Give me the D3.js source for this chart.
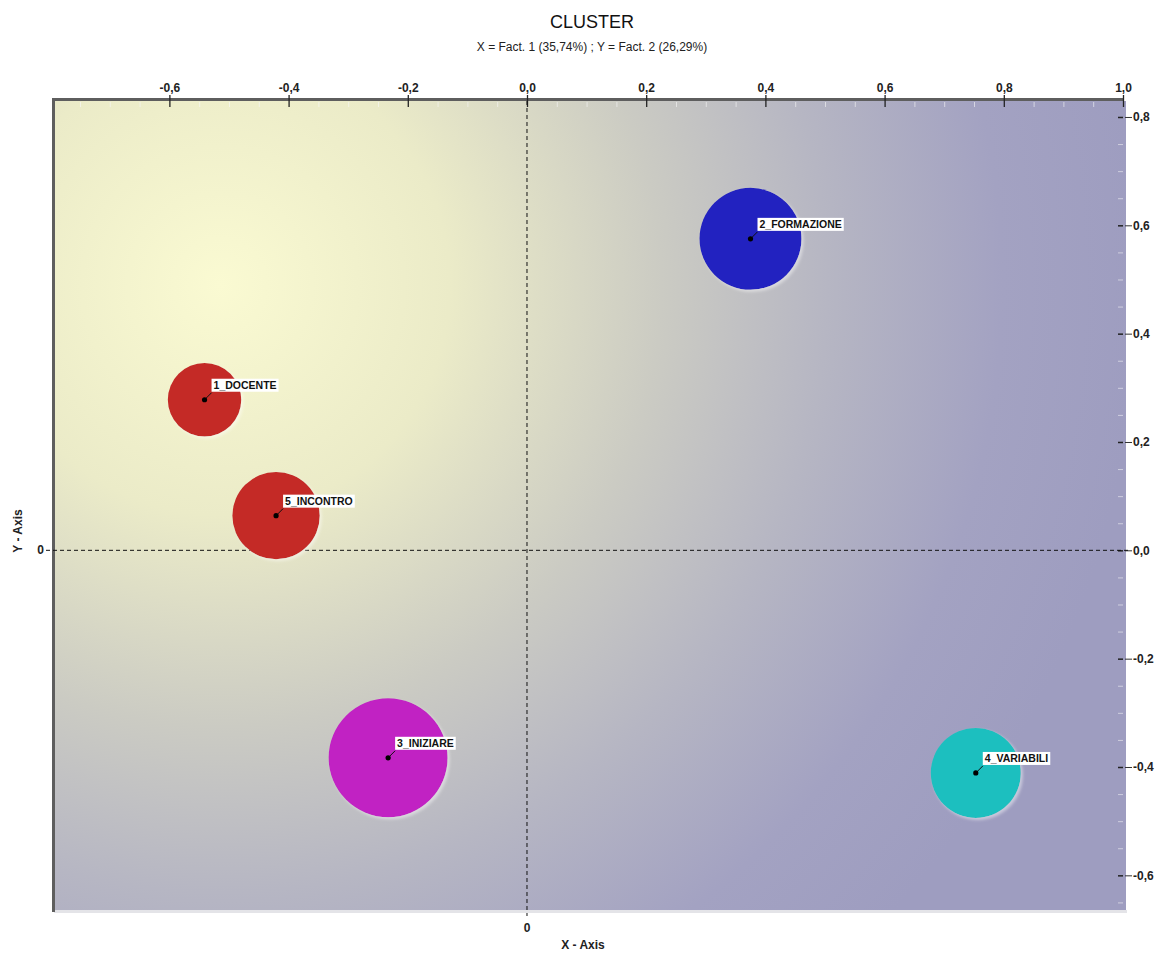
<!DOCTYPE html>
<html>
<head>
<meta charset="utf-8">
<script src="https://cdn.jsdelivr.net/npm/d3@7/dist/d3.min.js"></script>
<style>
  html, body { margin: 0; padding: 0; background: #ffffff; }
  svg { display: block; font-family: Arial, "Liberation Sans", sans-serif; }
</style>
</head>
<body>
<svg id="chart" width="1164" height="954"></svg>
<script>
// Cluster centroids on the first factorial plane
const clusters = ["1_DOCENTE", "2_FORMAZIONE", "3_INIZIARE", "4_VARIABILI", "5_INCONTRO"];
const fact1 = [-0.541, 0.375, -0.233, 0.753, -0.421];
const fact2 = [0.278, 0.575, -0.383, -0.411, 0.064];
const clusterWeight = [13.5, 26.0, 35.4, 20.3, 19.1];
const clusterColors = ["#c42a26", "#2020c0", "#c120c3", "#1fbfbf", "#c42a26"];

const xTicks = [-0.6, -0.4, -0.2, 0.0, 0.2, 0.4, 0.6, 0.8, 1.0];
const yTicks = [-0.6, -0.4, -0.2, 0.0, 0.2, 0.4, 0.6, 0.8];
const xMinorTicks = [-0.75, -0.7, -0.65, -0.55, -0.5, -0.45, -0.35, -0.3, -0.25, -0.15, -0.1, -0.05,
                     0.05, 0.1, 0.15, 0.25, 0.3, 0.35, 0.45, 0.5, 0.55, 0.65, 0.7, 0.75, 0.85, 0.9, 0.95];
const yMinorTicks = [-0.65, -0.55, -0.5, -0.45, -0.35, -0.3, -0.25, -0.15, -0.1, -0.05,
                     0.05, 0.1, 0.15, 0.25, 0.3, 0.35, 0.45, 0.5, 0.55, 0.65, 0.7, 0.75];

const titleText = "CLUSTER";
const subtitleText = "X = Fact. 1 (35,74%) ; Y = Fact. 2 (26,29%)";

const svg = d3.select("#chart");
const pLeft = 54, pRight = 1123, pTop = 101, pBottom = 910;

const x = d3.scaleLinear().domain([-0.7936, 1.0]).range([pLeft, pRight]);
const y = d3.scaleLinear().domain([-0.664, 0.8295]).range([pBottom, pTop]);
const r = d3.scaleSqrt().domain([0, 35.4]).range([0, 59.5]);
const fmt = v => d3.format(".1f")(v).replace(".", ",").replace("\u2212", "-");

const defs = svg.append("defs");
const grad = defs.append("radialGradient")
  .attr("id", "bg").attr("gradientUnits", "userSpaceOnUse")
  .attr("cx", 220).attr("cy", 285).attr("r", 920);
[[0, "#fafad2"], [0.25, "#ebebc8"], [0.48, "#cbcbc3"], [0.66, "#b6b6c3"], [0.85, "#a3a2c2"], [1, "#9e9dc0"]]
  .forEach(([o, c]) => grad.append("stop").attr("offset", o).attr("stop-color", c));

const shadow = defs.append("filter").attr("id", "shadow")
  .attr("x", "-30%").attr("y", "-30%").attr("width", "160%").attr("height", "160%");
shadow.append("feGaussianBlur").attr("in", "SourceAlpha").attr("stdDeviation", 1.5).attr("result", "b");
shadow.append("feOffset").attr("in", "b").attr("dx", 2).attr("dy", 2).attr("result", "o");
shadow.append("feFlood").attr("flood-color", "#ffffff").attr("flood-opacity", 0.45).attr("result", "f");
shadow.append("feComposite").attr("in", "f").attr("in2", "o").attr("operator", "in").attr("result", "s");
const merge = shadow.append("feMerge");
merge.append("feMergeNode").attr("in", "s");
merge.append("feMergeNode").attr("in", "SourceGraphic");

// Plot panel
svg.append("rect").attr("x", pLeft).attr("y", pBottom).attr("width", pRight - pLeft + 4).attr("height", 3)
  .attr("fill", "#e4e4e8");
svg.append("rect").attr("x", pLeft).attr("y", pTop).attr("width", pRight - pLeft + 3).attr("height", pBottom - pTop)
  .attr("fill", "url(#bg)");
// frame: dark top and left edges
svg.append("rect").attr("x", pLeft - 2).attr("y", pTop - 3).attr("width", pRight - pLeft + 3).attr("height", 3)
  .attr("fill", "#5e5e5e");
svg.append("rect").attr("x", pLeft - 2).attr("y", pTop - 3).attr("width", 3).attr("height", pBottom - pTop + 5)
  .attr("fill", "#5e5e5e");

// Top axis
const gxMinor = svg.append("g").attr("transform", `translate(0,${pTop + 1})`)
  .call(d3.axisBottom(x).tickValues(xMinorTicks).tickSize(5).tickFormat(""));
gxMinor.select(".domain").remove();
gxMinor.selectAll(".tick line").attr("stroke", "#f8f8f8").attr("stroke-opacity", 0.6);

const gx = svg.append("g").attr("transform", `translate(0,${pTop - 2})`)
  .call(d3.axisTop(x).tickValues(xTicks).tickFormat(fmt).tickSizeOuter(0).tickSizeInner(4).tickPadding(3));
gx.select(".domain").remove();
gx.selectAll(".tick line").attr("y1", 8).attr("y2", -4).attr("stroke", "#222").attr("stroke-width", 1.3);
gx.selectAll(".tick text").attr("font-size", 12).attr("font-weight", "bold").attr("fill", "#222");

// Right axis
const gyMinor = svg.append("g").attr("transform", `translate(${pRight},0)`)
  .call(d3.axisLeft(y).tickValues(yMinorTicks).tickSize(5).tickFormat(""));
gyMinor.select(".domain").remove();
gyMinor.selectAll(".tick line").attr("stroke", "#f0f0f4").attr("stroke-opacity", 0.6);

const gy = svg.append("g").attr("transform", `translate(${pRight + 2},0)`)
  .call(d3.axisRight(y).tickValues(yTicks).tickFormat(fmt).tickSizeOuter(0).tickSizeInner(7).tickPadding(1));
gy.select(".domain").remove();
gy.selectAll(".tick line").attr("stroke", "#333").attr("stroke-width", 1);
gy.selectAll(".tick").append("line")
  .attr("x1", -7).attr("x2", -2).attr("stroke", "#222").attr("stroke-width", 1.5);
gy.selectAll(".tick text").attr("font-size", 12).attr("font-weight", "bold").attr("fill", "#222");

// Zero lines
svg.append("line").attr("x1", x(0)).attr("x2", x(0)).attr("y1", pTop).attr("y2", pBottom + 6)
  .attr("stroke", "#111").attr("stroke-dasharray", "4,3");
svg.append("line").attr("x1", pLeft - 8).attr("x2", pRight + 8).attr("y1", y(0)).attr("y2", y(0))
  .attr("stroke", "#111").attr("stroke-dasharray", "4,3");

svg.append("text").attr("x", x(0)).attr("y", pBottom + 22).attr("text-anchor", "middle")
  .attr("font-size", 12).attr("font-weight", "bold").attr("fill", "#222").text("0");
svg.append("text").attr("x", pLeft - 10).attr("y", y(0) + 4).attr("text-anchor", "end")
  .attr("font-size", 12).attr("font-weight", "bold").attr("fill", "#222").text("0");

// Axis titles
svg.append("text").attr("x", 583).attr("y", 949).attr("text-anchor", "middle")
  .attr("font-size", 12).attr("font-weight", "bold").attr("fill", "#222").text("X - Axis");
svg.append("text").attr("transform", "translate(22,531) rotate(-90)").attr("text-anchor", "middle")
  .attr("font-size", 12).attr("font-weight", "bold").attr("fill", "#222").text("Y - Axis");

// Titles
svg.append("text").attr("x", 592).attr("y", 28).attr("text-anchor", "middle")
  .attr("font-size", 18).attr("fill", "#111").text(titleText);
svg.append("text").attr("x", 592).attr("y", 51).attr("text-anchor", "middle")
  .attr("font-size", 12).attr("fill", "#222").text(subtitleText);

// Bubbles
const data = clusters.map((name, i) => ({
  name, fx: fact1[i], fy: fact2[i], w: clusterWeight[i], color: clusterColors[i]
}));
const plot = svg.append("g");
plot.selectAll("circle.bubble").data(data).join("circle")
  .attr("class", "bubble")
  .attr("cx", d => x(d.fx)).attr("cy", d => y(d.fy)).attr("r", d => r(d.w))
  .attr("fill", d => d.color).attr("filter", "url(#shadow)");

// Centroid markers and labels
const lab = plot.selectAll("g.lab").data(data).join("g").attr("class", "lab")
  .attr("transform", d => `translate(${x(d.fx)},${y(d.fy)})`);
lab.append("line").attr("x1", 0).attr("y1", 0).attr("x2", 7).attr("y2", -7)
  .attr("stroke", "#111").attr("stroke-width", 1);
lab.append("circle").attr("r", 2.6).attr("fill", "#000");
lab.each(function(d) {
  const g = d3.select(this);
  const t = g.append("text").attr("x", 9).attr("y", -11)
    .attr("font-size", 10.5).attr("font-weight", "bold").attr("fill", "#111").text(d.name);
  const bb = t.node().getBBox();
  g.insert("rect", "text").attr("x", bb.x - 2).attr("y", -21).attr("width", bb.width + 4).attr("height", 13)
    .attr("fill", "#ffffff");
});
</script>
</body>
</html>
